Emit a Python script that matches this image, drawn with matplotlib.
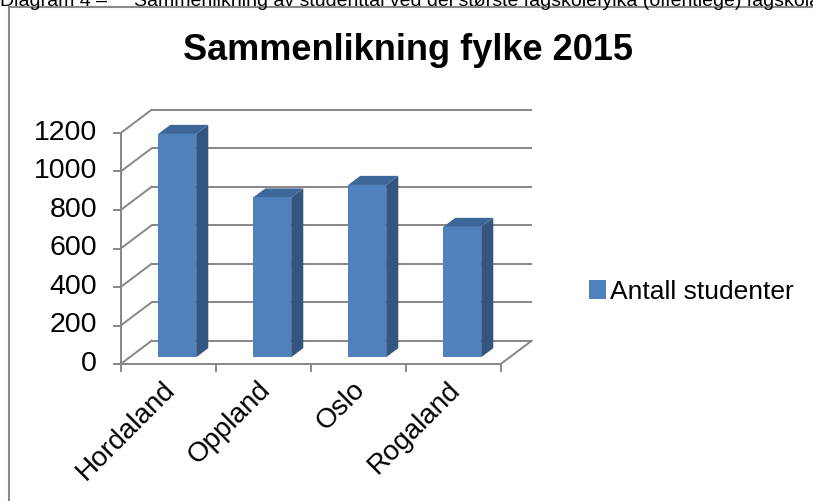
import matplotlib
matplotlib.use("Agg")
import matplotlib.pyplot as plt
from matplotlib.patches import Polygon, Patch
from matplotlib.lines import Line2D

plt.rcParams['font.family'] = ['Liberation Sans', 'DejaVu Sans']

# ---- data ----
categories = ["Hordaland", "Oppland", "Oslo", "Rogaland"]
values = [1160, 830, 895, 677]
y_ticks = [0, 200, 400, 600, 800, 1000, 1200]
title = "Sammenlikning fylke 2015"
series_name = "Antall studenter"
caption = "Diagram 4 \u2013     Sammenlikning av studenttal ved dei st\u00f8rste fagskolefylka (offentlege) fagskolar"

W, H = 813, 501
fig = plt.figure(figsize=(W / 100, H / 100), dpi=100)
ax = fig.add_axes([0, 0, 1, 1])

# pixel mapping (x: categories, y: values)
X0PX, XU = 120.7, 95.0       # px of x=0, px per category
Y0PX, YU = 364.0, 0.1925     # px (from top) of y=0, px per value unit
ax.set_xlim(-X0PX / XU, (W - X0PX) / XU)
ax.set_ylim(-(H - Y0PX) / YU, Y0PX / YU)
ax.axis("off")

DXU = 31.0 / XU      # full depth offset in x data units
DYU = 23.3 / YU      # full depth offset in y data units


def P(x, y, d):
    return (x + d * DXU, y + d * DYU)


grid_c = "#868686"
glw = 1.4
n = len(categories)
ymax = y_ticks[-1]

# back wall gridlines + side wall diagonals
for v in y_ticks:
    (xa, ya), (xb, yb) = P(0, v, 1), P(n, v, 1)
    ax.plot([xa, xb], [ya, yb], color=grid_c, lw=glw, solid_capstyle="butt", zorder=1)
    (xc, yc) = P(0, v, 0)
    ax.plot([xc, xa], [yc, ya], color=grid_c, lw=glw, zorder=1)
# floor right edge
(xr0, yr0), (xr1, yr1) = P(n, 0, 0), P(n, 0, 1)
ax.plot([xr0, xr1], [yr0, yr1], color=grid_c, lw=glw, zorder=1)

# front axes
ax.plot([0, n], [0, 0], color=grid_c, lw=glw, zorder=2)
ax.plot([0, 0], [0, ymax], color=grid_c, lw=glw, zorder=2)
tick_len_x = 7.0 / XU
tick_len_y = 7.0 / YU
for v in y_ticks:
    ax.plot([-tick_len_x, 0], [v, v], color=grid_c, lw=glw, zorder=2)
    ax.text((97 - X0PX) / XU, v, str(v), ha="right", va="center", fontsize=20.5, color="black")
for i in range(n + 1):
    ax.plot([i, i], [0, -tick_len_y], color=grid_c, lw=glw, zorder=2)

# bars
d0, d1 = 0.29, 0.68
bl, br = 0.30, 0.70
front_c, side_c, top_c = "#4F81BD", "#34557F", "#3E6799"
for i, v in enumerate(values):
    front = [P(i + bl, 0, d0), P(i + br, 0, d0), P(i + br, v, d0), P(i + bl, v, d0)]
    side = [P(i + br, 0, d0), P(i + br, 0, d1), P(i + br, v, d1), P(i + br, v, d0)]
    top = [P(i + bl, v, d0), P(i + br, v, d0), P(i + br, v, d1), P(i + bl, v, d1)]
    ax.add_patch(Polygon(side, closed=True, facecolor=side_c, edgecolor="none", zorder=3))
    ax.add_patch(Polygon(top, closed=True, facecolor=top_c, edgecolor="none", zorder=3))
    ax.add_patch(Polygon(front, closed=True, facecolor=front_c, edgecolor="none", zorder=4))

# category labels
for i, c in enumerate(categories):
    ax.text(i + 0.5 + 0.03, (Y0PX - 386) / YU, c, rotation=45, rotation_mode="anchor",
            ha="right", va="center", fontsize=20, color="black")

# title
fig.text(408 / W, 1 - 60 / H, title, ha="center", va="baseline", fontsize=26,
         fontweight="bold", color="black")

# legend
leg = fig.legend(handles=[Patch(facecolor=front_c, edgecolor="none", label=series_name)],
                 loc="center left", bbox_to_anchor=(589 / W, 1 - 292 / H), frameon=False,
                 fontsize=19, handlelength=0.65, handleheight=0.75, handletextpad=0.15,
                 borderpad=0, borderaxespad=0)

# outer frame and clipped caption
fig.add_artist(Line2D([9 / W, 9 / W], [0, 1 - 7 / H], color="#8a8a8a", lw=1.5))
fig.add_artist(Line2D([9 / W, 1], [1 - 7 / H, 1 - 7 / H], color="#8a8a8a", lw=1.5))
fig.text(0 / W, 1 - 6 / H, caption, ha="left", va="baseline", fontsize=14, color="black")

fig.savefig("out.png", dpi=100)
